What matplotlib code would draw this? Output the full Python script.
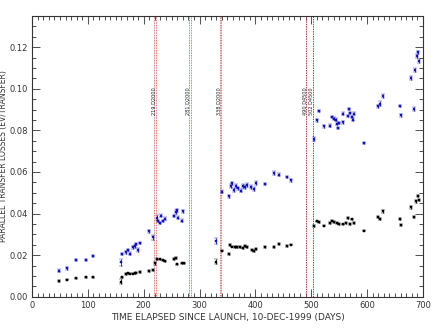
import numpy as np
import matplotlib
matplotlib.use('Agg')
import matplotlib.pyplot as plt
from matplotlib.ticker import MultipleLocator

# upper series (blue)
blue_day = [49, 62, 79, 97, 110, 159, 162, 168, 172, 176, 180, 184, 187, 189, 193,
            209, 217, 223, 225, 229, 231, 235, 239, 254, 258, 260, 261, 269, 271,
            330, 341, 352, 356, 359, 362, 366, 369, 374, 377, 381, 385, 393, 397, 401,
            417, 433, 443, 456, 464,
            505, 510, 514, 522, 533, 538, 541, 544, 547, 548, 550, 556, 557, 565, 568,
            569, 573, 575, 577, 595, 620, 623, 629, 659, 660, 678, 684, 686, 689, 692, 693]
blue_val = [0.0125, 0.0137, 0.0175, 0.0175, 0.0195, 0.0165, 0.0205, 0.0213, 0.0225, 0.0207,
            0.0237, 0.0242, 0.0253, 0.0225, 0.0258,
            0.0315, 0.0285, 0.0380, 0.0365, 0.0355, 0.0390, 0.0365, 0.0375, 0.0390, 0.0408,
            0.0415, 0.0380, 0.0365, 0.0410,
            0.0268, 0.0506, 0.0482, 0.0533, 0.0546, 0.0514, 0.0533, 0.0522, 0.0510, 0.0533,
            0.0527, 0.0538, 0.0527, 0.0518, 0.0546, 0.0543, 0.0595, 0.0587, 0.0575, 0.0559,
            0.0759, 0.0848, 0.0892, 0.0819, 0.0823, 0.0864, 0.0856, 0.0852, 0.0832, 0.0812,
            0.0836, 0.0839, 0.0880, 0.0868, 0.0903, 0.0884, 0.0864, 0.0852, 0.0880, 0.0739,
            0.0916, 0.0929, 0.0964, 0.0916, 0.0872, 0.1050, 0.0903, 0.1090, 0.1157, 0.1176, 0.1133]
blue_err = [0.0007, 0.0008, 0.0004, 0.0004, 0.0006, 0.0018, 0.0005, 0.0006, 0.0006, 0.0006,
            0.0006, 0.0006, 0.0006, 0.0008, 0.0006,
            0.0008, 0.0010, 0.0012, 0.0006, 0.0006, 0.0006, 0.0006, 0.0006, 0.0005, 0.0008,
            0.0006, 0.0006, 0.0008, 0.0005,
            0.0015, 0.0008, 0.0006, 0.0010, 0.0008, 0.0008, 0.0008, 0.0008, 0.0008, 0.0008,
            0.0008, 0.0008, 0.0008, 0.0008, 0.0010, 0.0006, 0.0010, 0.0006, 0.0005, 0.0008,
            0.0010, 0.0006, 0.0006, 0.0008, 0.0006, 0.0006, 0.0006, 0.0006, 0.0006, 0.0006,
            0.0006, 0.0006, 0.0006, 0.0006, 0.0006, 0.0006, 0.0006, 0.0006, 0.0006, 0.0005,
            0.0008, 0.0012, 0.0010, 0.0004, 0.0006, 0.0010, 0.0008, 0.0008, 0.0010, 0.0008, 0.0010]

# lower series (black)
black_day = [49, 62, 79, 97, 110, 159, 162, 168, 172, 176, 180, 184, 187, 193,
             209, 217, 221, 224, 229, 235, 239, 254, 258, 260, 269, 272,
             330, 341, 352, 355, 359, 363, 367, 373, 377, 381, 385, 394, 398, 401,
             417, 433, 443, 456, 464,
             505, 510, 514, 522, 533, 538, 541, 546, 550, 556, 562, 565, 569, 573, 577,
             595, 620, 623, 629, 659, 660, 678, 684, 687, 691, 693]
black_val = [0.0075, 0.0082, 0.0089, 0.0093, 0.0093, 0.0072, 0.0093, 0.0110, 0.0112, 0.0110,
             0.0111, 0.0113, 0.0115, 0.0120,
             0.0124, 0.0130, 0.0160, 0.0180, 0.0180, 0.0175, 0.0170, 0.0180, 0.0185, 0.0155,
             0.0160, 0.0160,
             0.0169, 0.0222, 0.0206, 0.0248, 0.0241, 0.0238, 0.0240, 0.0240, 0.0233, 0.0244,
             0.0240, 0.0225, 0.0222, 0.0230, 0.0240, 0.0238, 0.0252, 0.0245, 0.0251,
             0.0342, 0.0362, 0.0358, 0.0342, 0.0353, 0.0366, 0.0360, 0.0353, 0.0350, 0.0348,
             0.0355, 0.0377, 0.0350, 0.0372, 0.0355,
             0.0318, 0.0382, 0.0375, 0.0410, 0.0375, 0.0345, 0.0430, 0.0382, 0.0458, 0.0485, 0.0466]
black_err = [0.0003, 0.0003, 0.0003, 0.0003, 0.0003, 0.0012, 0.0003, 0.0004, 0.0003, 0.0003,
             0.0003, 0.0003, 0.0003, 0.0004,
             0.0004, 0.0005, 0.0006, 0.0004, 0.0003, 0.0003, 0.0003, 0.0004, 0.0004, 0.0004,
             0.0003, 0.0003,
             0.0013, 0.0004, 0.0004, 0.0005, 0.0004, 0.0004, 0.0004, 0.0004, 0.0004, 0.0004,
             0.0004, 0.0004, 0.0005, 0.0005, 0.0004, 0.0004, 0.0004, 0.0004, 0.0004,
             0.0005, 0.0004, 0.0004, 0.0004, 0.0004, 0.0004, 0.0004, 0.0004, 0.0004, 0.0004,
             0.0004, 0.0004, 0.0004, 0.0004, 0.0004,
             0.0004, 0.0004, 0.0004, 0.0005, 0.0004, 0.0004, 0.0006, 0.0005, 0.0005, 0.0005, 0.0005]

# event markers (days) and their labels
event_day = [220.5, 282.5, 337.5, 491, 503]
event_label = ['219 D2000', '281 D2000', '338 D2000', '490 D4500', '502 D4500']

plt.rcParams['font.family'] = 'DejaVu Sans'
fig = plt.figure(figsize=(4.36, 3.31), dpi=100)
ax = fig.add_axes([0.0734, 0.1036, 0.8966, 0.848])

for d, lab in zip(event_day, event_label):
    if d < 400:
        for off in (-1.5, 1.5):
            ax.axvline(d + off, color='#d04848', lw=0.6, ls=(0, (1, 1)))
    else:
        ax.axvline(d, color='#b83838', lw=0.7, ls=(0, (1.5, 1)))
    ax.text(d - 2, 0.094, lab, rotation=90, fontsize=3.6, ha='center', va='center',
            color='#222222')

ax.errorbar(blue_day, blue_val, yerr=blue_err, fmt='s', ms=1.6, color='#1010c8',
            ecolor='#1010c8', elinewidth=0.6, capsize=1.2, capthick=0.6, mew=0.3)
ax.errorbar(black_day, black_val, yerr=black_err, fmt='s', ms=1.5, color='black',
            ecolor='black', elinewidth=0.6, capsize=1.2, capthick=0.6, mew=0.3)

ax.set_xlim(0, 700)
ax.set_ylim(0, 0.135)
ax.xaxis.set_major_locator(MultipleLocator(100))
ax.xaxis.set_minor_locator(MultipleLocator(10))
ax.yaxis.set_major_locator(MultipleLocator(0.02))
ax.yaxis.set_minor_locator(MultipleLocator(0.005))
ax.yaxis.set_major_formatter(plt.FormatStrFormatter('%.2f'))
ax.tick_params(which='both', direction='in', top=True, right=True, labelsize=6,
               colors='#333333', width=0.6)
ax.tick_params(which='major', length=6, pad=3)
ax.tick_params(which='minor', length=3)
for s in ax.spines.values():
    s.set_linewidth(0.8)
    s.set_color('#333333')

ax.set_xlabel('TIME ELAPSED SINCE LAUNCH, 10-DEC-1999 (DAYS)', fontsize=6.5,
              color='#333333', labelpad=2)
ax.set_ylabel('PARALLEL TRANSFER LOSSES (EV/TRANSFER)', fontsize=5.5,
              color='#333333')
ax.yaxis.set_label_coords(-0.062, 0.5)

fig.savefig('out.png', dpi=100)
